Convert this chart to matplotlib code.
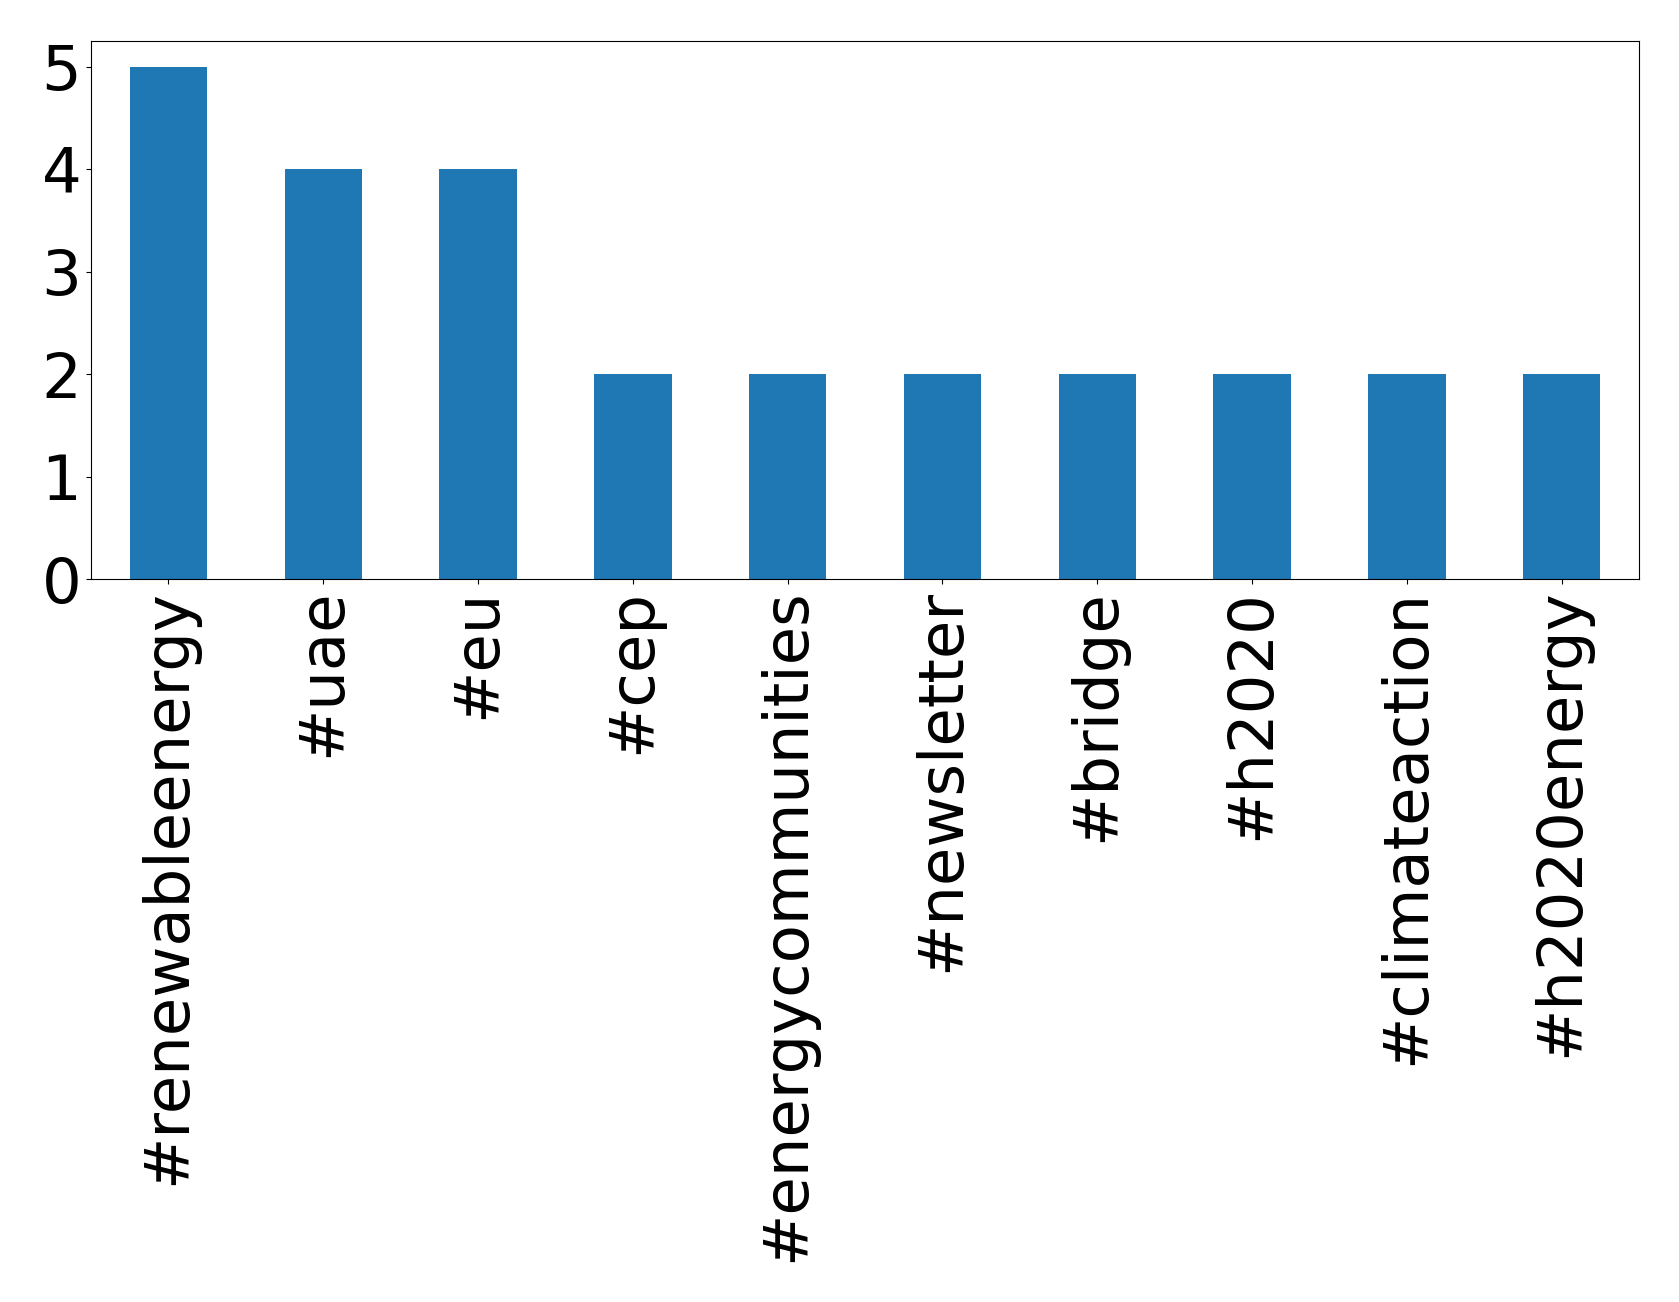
import matplotlib
matplotlib.use("Agg")
import matplotlib.pyplot as plt

categories = ["#renewableenergy", "#uae", "#eu", "#cep", "#energycommunities",
              "#newsletter", "#bridge", "#h2020", "#climateaction", "#h2020energy"]
counts = [5, 4, 4, 2, 2, 2, 2, 2, 2, 2]

fig = plt.figure(figsize=(16.79, 13.02), dpi=100)
ax = fig.add_axes([91/1679, 1 - 579/1302, (1639-91)/1679, (579-41)/1302])
x = list(range(len(categories)))
ax.bar(x, counts, width=0.5, color="#1f77b4")
ax.set_xlim(-0.5, len(categories) - 0.5)
ax.set_ylim(0, 5.25)
ax.set_xticks(x)
ax.set_xticklabels(categories, rotation=90, fontsize=45)
ax.set_yticks([0, 1, 2, 3, 4, 5])
ax.tick_params(axis="y", labelsize=45)
fig.savefig("out.png", dpi=100)
